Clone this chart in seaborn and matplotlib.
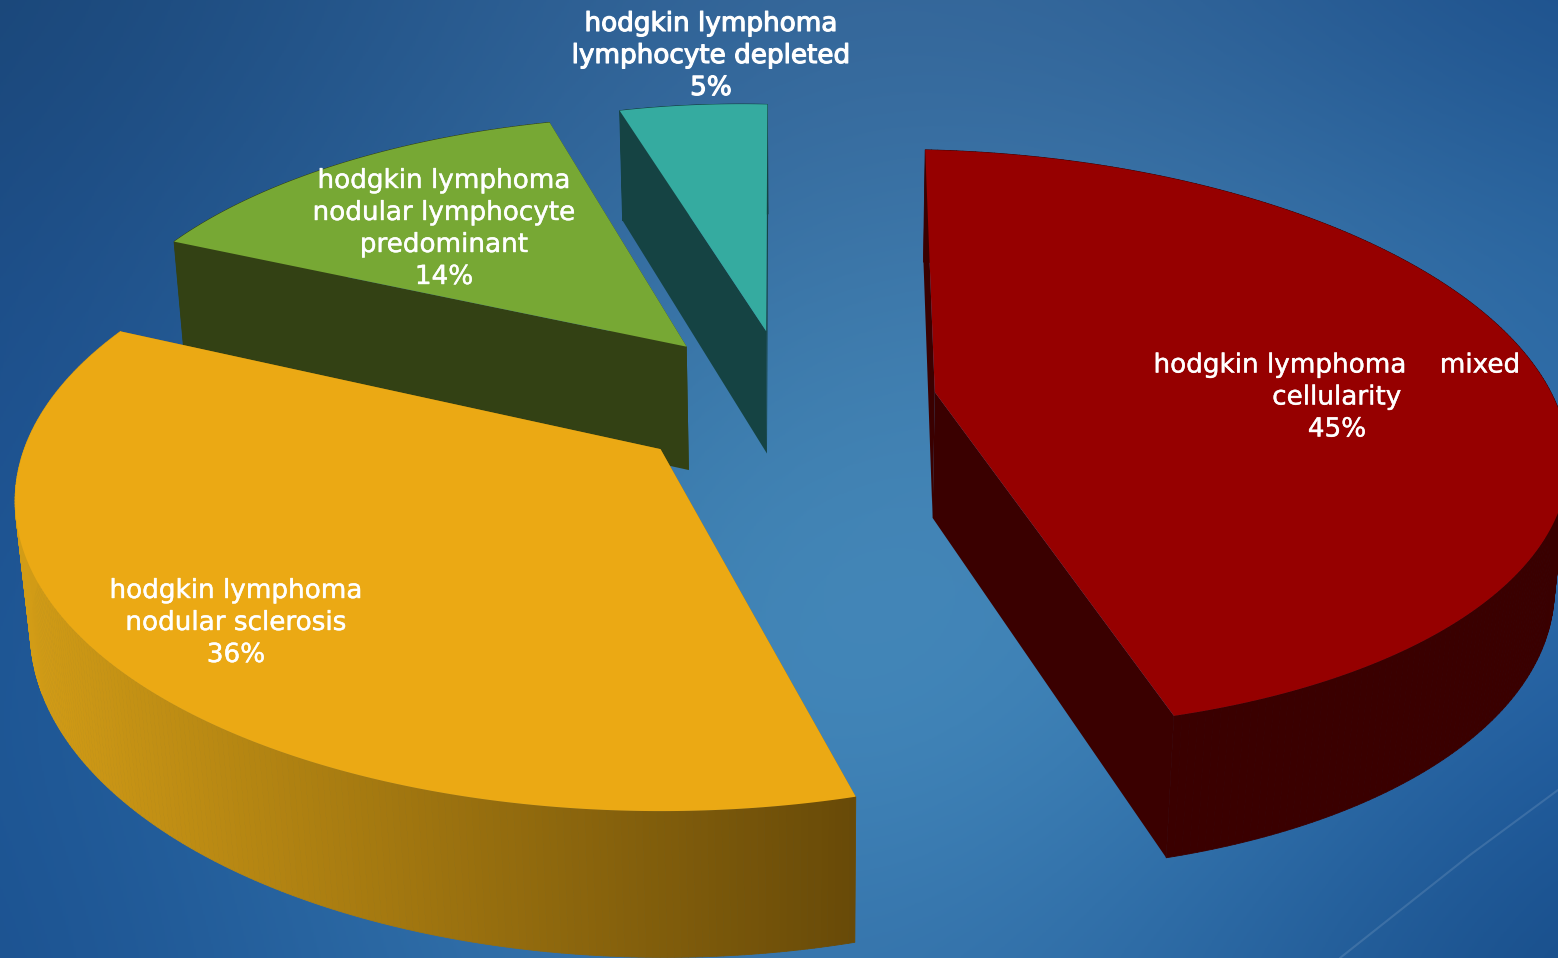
import numpy as np
import matplotlib
matplotlib.use("Agg")
import matplotlib.pyplot as plt
import matplotlib.patheffects as pe
from matplotlib.collections import PolyCollection
from matplotlib.colors import to_rgb
import seaborn as sns

# Chart data
categories = ["hodgkin lymphoma    mixed\ncellularity",
              "hodgkin lymphoma\nnodular sclerosis",
              "hodgkin lymphoma\nnodular lymphocyte\npredominant",
              "hodgkin lymphoma\nlymphocyte depleted"]
shares = [45, 36, 14, 5]

# Styling
top_palette = sns.color_palette(["#960000", "#eba914", "#77a834", "#35aba0"])
wall_palette = sns.color_palette(["#3a0000", "#a0720e", "#334114", "#154343"])
label_centres = [(1337, 397.5), (236, 623), (444, 229), (711, 56)]
label_strokes = [0.3, 0.3, 0.3, 0.8]

# Perspective camera for the tilted pie (pie radius = 1 on the ground plane)
ORIGIN_X, ORIGIN_Y = 786.32, 399.11
SCALE_X, SCALE_Y = 618.53, 284.43
DEPTH_GAIN, SHEAR = 0.1636, -21.06
START_ANGLE = 3.16
EXPLODE = [0.2431, 0.2658, 0.2482, 0.2504]
THICKNESS = 0.0184
VANISH_X, VANISH_Y = 813.59, 7383.25
# Per-slice screen adjustment around each slice's tip
SLICE_SKEW = [0.0, 0.0, 0.0, 0.05]
SLICE_WIDTH = [1.0, 1.0, 1.0, 0.925]

edges = np.cumsum([0] + shares) / sum(shares) * 360.0


def project(i, radius, angle, lower=False):
    """Screen position of a point on slice i, on its top or bottom face."""
    mid = np.radians(START_ANGLE + (edges[i] + edges[i + 1]) / 2)

    def to_screen(r):
        gx = EXPLODE[i] * np.sin(mid) + r * np.sin(angle)
        gy = EXPLODE[i] * np.cos(mid) + r * np.cos(angle)
        w = 1 + DEPTH_GAIN * gy
        return (ORIGIN_X + (SCALE_X * gx + SHEAR * gy) / w,
                ORIGIN_Y - SCALE_Y * gy / w, w)

    sx, sy, w = to_screen(radius)
    tip_x, tip_y, _ = to_screen(0.0)
    sx = tip_x + (sx - tip_x) * SLICE_WIDTH[i] + SLICE_SKEW[i] * (sy - tip_y)
    if lower:
        k = THICKNESS / (w + THICKNESS)
        sx = sx + k * (VANISH_X - sx)
        sy = sy + k * (VANISH_Y - sy)
    return sx, sy


sns.set_theme(style="white")
plt.rcParams["font.family"] = ["DejaVu Sans"]
fig = plt.figure(figsize=(15.58, 9.58), dpi=100)
ax = fig.add_axes([0, 0, 1, 1])

# Blue backdrop: coarse colour grid smoothed by the image interpolation
backdrop = [["#194475", "#24568c", "#38689a", "#2f6297", "#1a4d8a"],
            ["#1b4b85", "#2a6096", "#3c76a8", "#3e78ab", "#2a66a0"],
            ["#1b4e8e", "#2f6ca3", "#4488b6", "#4585b8", "#2c6aa8"],
            ["#1c5493", "#2e6ea8", "#4a90c0", "#3a7eb4", "#1f5a9e"],
            ["#1a4f8e", "#2a68a4", "#3a78ae", "#2c6aa6", "#154985"]]
rgb = np.array([[to_rgb(c) for c in row] for row in backdrop])
ax.imshow(rgb, extent=(-195, 1753, 1078, -120), interpolation="bicubic",
          aspect="auto", zorder=0)
ax.plot([1558, 1470, 1340], [790, 855, 958], color="white", alpha=0.12, lw=1.5, zorder=1)

# Slices are painted back to front
for i in [3, 2, 1, 0]:
    arc = np.radians(START_ANGLE + np.linspace(edges[i], edges[i + 1], 240))
    tx, ty = project(i, 1.0, arc)
    bx, by = project(i, 1.0, arc, lower=True)
    ax_t, ay_t = project(i, 0.0, 0.0)
    ax_b, ay_b = project(i, 0.0, 0.0, lower=True)
    wall = wall_palette[i]
    layer = 2 + (3 - i)
    ax.fill([ax_t, tx[0], bx[0], ax_b], [ay_t, ty[0], by[0], ay_b], color=wall, lw=0, zorder=layer)
    ax.fill([ax_t, tx[-1], bx[-1], ax_b], [ay_t, ty[-1], by[-1], ay_b], color=wall, lw=0, zorder=layer)
    quads = [[(tx[j], ty[j]), (tx[j + 1], ty[j + 1]), (bx[j + 1], by[j + 1]), (bx[j], by[j])]
             for j in range(len(arc) - 1)]
    if i == 1:
        # Outer rim of this slice darkens from left to right
        left, right = np.array(to_rgb("#d29c16")), np.array(to_rgb("#684a08"))
        frac = np.clip((tx[:-1] - 20) / 837, 0, 1)[:, None]
        face = left + (right - left) * frac
    else:
        face = [wall] * len(quads)
    ax.add_collection(PolyCollection(quads, facecolors=face, edgecolors=face, linewidths=0.6,
                                     zorder=layer))
    ax.fill(np.r_[ax_t, tx], np.r_[ay_t, ty], color=top_palette[i], lw=0, zorder=layer + 0.5)

# Labels state category and share
for name, value, (lx, ly), stroke in zip(categories, shares, label_centres, label_strokes):
    ax.text(lx, ly, f"{name}\n{value}%", color="white", fontsize=18.9, ha="center", va="center",
            multialignment="center", linespacing=1.30, zorder=10,
            path_effects=[pe.withStroke(linewidth=stroke, foreground="white")])

ax.set_xlim(0, 1558)
ax.set_ylim(958, 0)
ax.axis("off")
fig.savefig("out.png", dpi=100)
